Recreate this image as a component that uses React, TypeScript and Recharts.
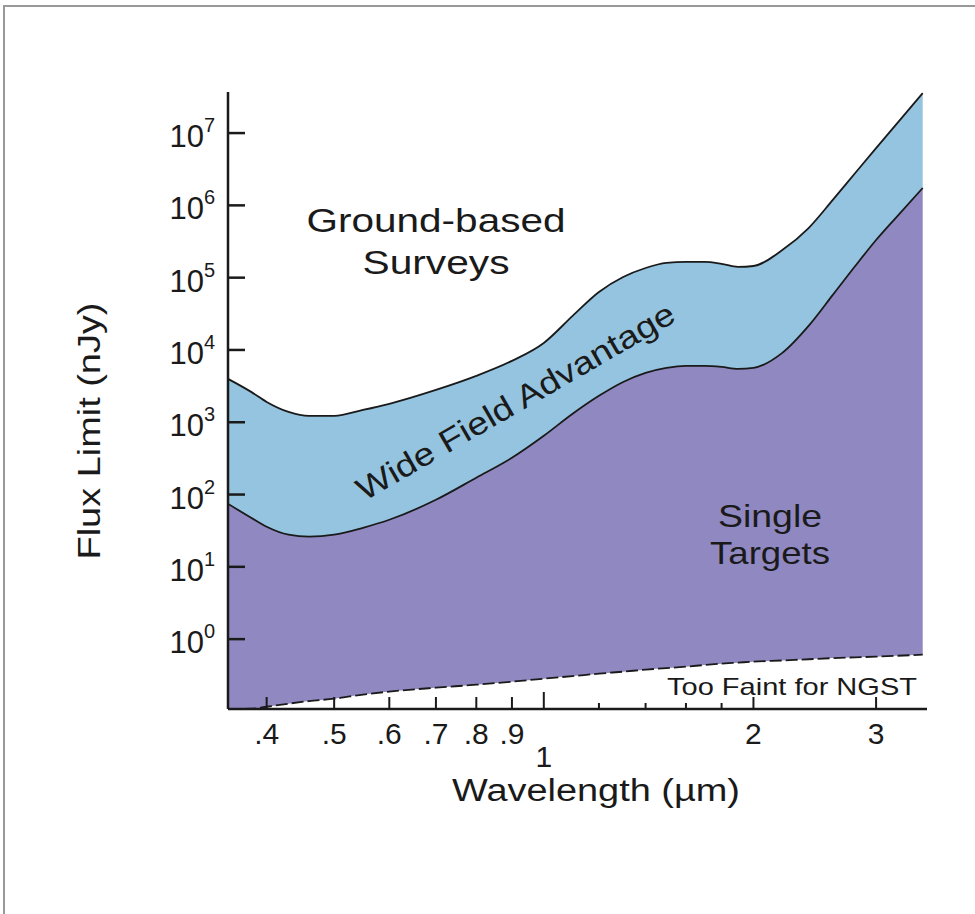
import React from "react"
import { ComposedChart, Area, Line, XAxis, YAxis } from "recharts"

// wavelength samples (µm) and flux limits (nJy)
const wavelengths = [
  0.352, 0.38, 0.4, 0.43, 0.46, 0.5, 0.55, 0.6, 0.7, 0.8, 0.9, 1.0, 1.1, 1.2, 1.3,
  1.4, 1.5, 1.6, 1.7, 1.8, 1.9, 2.0, 2.2, 2.4, 2.6, 2.8, 3.0, 3.2, 3.5,
]
const groundLimit = [
  3980, 2630, 1910, 1390, 1225, 1225, 1480, 1800, 2800, 4380, 7060, 12500, 29600, 63400,
  102000, 136000, 160000, 165000, 165000, 155000, 141000, 145000, 241000, 486000, 1190000,
  2800000, 6200000, 12900000, 35700000,
]
const wideFieldLimit = [
  74.5, 47.7, 35.8, 27.8, 26.1, 27.8, 34.7, 44.8, 84.6, 171, 322, 649, 1310, 2320, 3610,
  4820, 5650, 6030, 6030, 5830, 5470, 5650, 9100, 21500, 57700, 145000, 332000, 668000,
  1740000,
]
const faintLimit = [
  0.108, 0.109, 0.116, 0.128, 0.139, 0.15, 0.171, 0.188, 0.213, 0.234, 0.258, 0.284, 0.308,
  0.333, 0.355, 0.378, 0.398, 0.416, 0.438, 0.458, 0.473, 0.488, 0.507, 0.527, 0.546, 0.56,
  0.572, 0.587, 0.61,
]

const xTicks = [0.4, 0.5, 0.6, 0.7, 0.8, 0.9, 1, 1.2, 1.4, 1.6, 1.8, 2, 3]
const xTickLabels: Record<number, string> = {
  0.4: ".4", 0.5: ".5", 0.6: ".6", 0.7: ".7", 0.8: ".8", 0.9: ".9", 1: "1", 2: "2", 3: "3",
}
const yTicks = [1, 10, 100, 1e3, 1e4, 1e5, 1e6, 1e7]

const data = wavelengths.map((w, i) => ({
  w,
  upper: groundLimit[i],
  lower: wideFieldLimit[i],
  faint: faintLimit[i],
}))

const FONT = "'Liberation Sans', Arial, Helvetica, sans-serif"
const INK = "#1a1a1a"

const XTick = (props: any) => {
  const { x, y, payload } = props
  const v = payload.value
  const label = xTickLabels[v]
  const len = v === 1 ? 17 : label ? 12 : 6
  return (
    <g>
      <line x1={x} x2={x} y1={y} y2={y - len} stroke={INK} strokeWidth={2} />
      {label && (
        <text x={x} y={v === 1 ? y + 58 : y + 35} textAnchor="middle" fontSize={30} fill={INK} fontFamily={FONT}>
          {label}
        </text>
      )}
    </g>
  )
}

const YTick = (props: any) => {
  const { x, y, payload } = props
  const exp = Math.round(Math.log10(payload.value))
  return (
    <g>
      <line x1={x} x2={x + 17} y1={y} y2={y} stroke={INK} strokeWidth={2.5} />
      <text x={x - 13} y={y + 14} textAnchor="end" fontSize={31} fill={INK} fontFamily={FONT}>
        10
        <tspan dy={-15} fontSize={20}>
          {exp}
        </tspan>
      </text>
    </g>
  )
}

// label stretched to the width it has in the figure
const Label = ({ x, y, len, size, rotate, children }: any) => (
  <text
    x={x}
    y={y}
    textAnchor="middle"
    fontSize={size}
    textLength={len}
    lengthAdjust="spacingAndGlyphs"
    transform={rotate ? `rotate(${rotate} ${x} ${y})` : undefined}
  >
    {children}
  </text>
)

export default function App() {
  return (
    <div style={{ position: "absolute", left: 0, top: 0, width: 975, height: 914, background: "#fff", overflow: "hidden" }}>
      <div
        style={{
          position: "absolute",
          left: 3,
          top: 5,
          width: 980,
          height: 920,
          borderLeft: "2px solid #999",
          borderTop: "2px solid #999",
        }}
      />
      <ComposedChart
        width={975}
        height={914}
        data={data}
        margin={{ top: 92, right: 48, bottom: 165, left: 148 }}
        style={{ position: "absolute", left: 0, top: 0 }}
      >
        <XAxis
          dataKey="w"
          type="number"
          scale="log"
          domain={[0.352, 3.55]}
          allowDataOverflow
          ticks={xTicks}
          interval={0}
          tick={<XTick />}
          tickLine={false}
          tickSize={0}
          tickMargin={0}
          height={40}
          axisLine={{ stroke: INK, strokeWidth: 2.5 }}
        />
        <YAxis
          type="number"
          scale="log"
          domain={[0.108, 3.7e7]}
          allowDataOverflow
          ticks={yTicks}
          interval={0}
          tick={<YTick />}
          tickLine={false}
          tickSize={0}
          tickMargin={0}
          width={80}
          axisLine={{ stroke: INK, strokeWidth: 2.5 }}
        />
        <Area
          type="monotone"
          dataKey={(d: any) => [d.lower, d.upper]}
          fill="#94c4df"
          fillOpacity={1}
          stroke="none"
          isAnimationActive={false}
        />
        <Area
          type="monotone"
          dataKey={(d: any) => [d.faint, d.lower]}
          fill="#9088c1"
          fillOpacity={1}
          stroke="none"
          isAnimationActive={false}
        />
        <Line type="monotone" dataKey="upper" stroke={INK} strokeWidth={1.8} dot={false} isAnimationActive={false} />
        <Line type="monotone" dataKey="lower" stroke={INK} strokeWidth={1.8} dot={false} isAnimationActive={false} />
        <Line
          type="monotone"
          dataKey="faint"
          stroke={INK}
          strokeWidth={1.8}
          strokeDasharray="12 4"
          dot={false}
          isAnimationActive={false}
        />
      </ComposedChart>
      <svg width={975} height={914} style={{ position: "absolute", left: 0, top: 0, pointerEvents: "none" }} fontFamily={FONT} fill={INK}>
        <Label x={596} y={801} len={288} size={31}>Wavelength (µm)</Label>
        <Label x={100} y={431} len={257} size={31} rotate={-90}>Flux Limit (nJy)</Label>
        <Label x={436} y={232} len={259} size={34}>Ground-based</Label>
        <Label x={436} y={274} len={147} size={34}>Surveys</Label>
        <Label x={521} y={411} len={362} size={32} rotate={-30}>Wide Field Advantage</Label>
        <Label x={770} y={527} len={104} size={32}>Single</Label>
        <Label x={770} y={564} len={120} size={32}>Targets</Label>
        <Label x={792} y={695} len={250} size={24}>Too Faint for NGST</Label>
      </svg>
    </div>
  )
}
